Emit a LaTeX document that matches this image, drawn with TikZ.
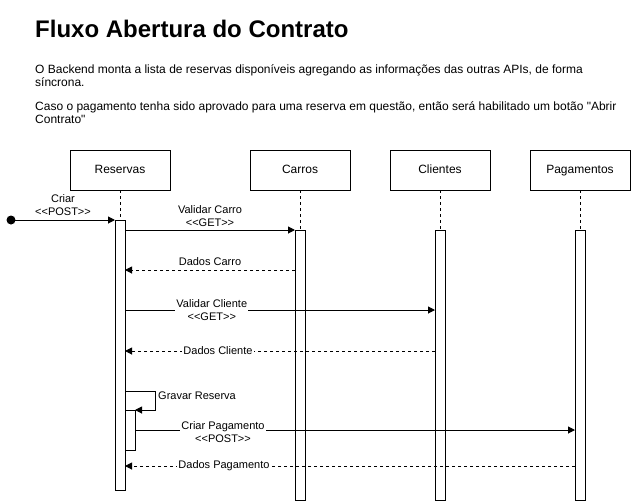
\documentclass[tikz,border=0pt]{standalone}
\usepackage{fontspec}
\setmainfont{Liberation Sans}[Ligatures=TeXOff]
\usetikzlibrary{positioning,arrows.meta}
\tikzset{
    base/.style={font=\fontsize{12}{14}\selectfont, align=center},
    head/.style={base, rectangle, draw, line width=1pt, fill=white,
                 minimum width=100pt, minimum height=40pt, inner sep=0pt, outer sep=0pt,
                 text height=9pt, text depth=2.5pt},
    act/.style={rectangle, draw, line width=1pt, fill=white, minimum width=10pt,
                minimum height=270pt, inner sep=0pt, outer sep=0pt},
    life/.style={line width=1pt, dash pattern=on 3pt off 3pt},
    call/.style={-{Triangle[length=7pt,width=7pt]}, line width=1pt},
    reply/.style={call, dash pattern=on 3pt off 3pt},
    msg/.style={font=\fontsize{11}{13}\selectfont, align=center, inner sep=1pt},
    msgbg/.style={msg, fill=white},
    dot/.style={circle, fill, inner sep=0pt, minimum size=9pt}
}

\begin{document}
\begin{tikzpicture}[x=1pt, y=-1pt]
  \useasboundingbox (0,0) rectangle (631,501);

  % Title and description
  \node[anchor=base west, inner sep=0pt, font=\fontsize{24}{28}\selectfont\bfseries] (title) at (35,37) {Fluxo Abertura do Contrato};
  \node[anchor=north west, inner sep=0pt, align=left, font=\fontsize{12}{13.5}\selectfont] (desc) at (35,64)
    {O Backend monta a lista de reservas disponíveis agregando as informações das outras APIs, de forma\\síncrona.};
  \node[anchor=north west, inner sep=0pt, align=left, font=\fontsize{12}{13.5}\selectfont] (note) at (35,101)
    {Caso o pagamento tenha sido aprovado para uma reserva em questão, então será habilitado um botão "Abrir\\Contrato"};

  % Lifelines
  \node[head] (resHead) at (120,170) {Reservas};
  \node[head, right=80pt of resHead] (carHead) {Carros};
  \node[head, right=40pt of carHead] (cliHead) {Clientes};
  \node[head, right=40pt of cliHead] (pagHead) {Pagamentos};

  \node[act, below=30pt of resHead] (resAct) {};
  \node[act, below=40pt of carHead] (carAct) {};
  \node[act, below=40pt of cliHead] (cliAct) {};
  \node[act, below=40pt of pagHead] (pagAct) {};
  \node[act, minimum height=40pt, anchor=north west] (subAct) at (125,410) {};

  \draw[life] (resHead.south) -- (resAct.north);
  \draw[life] (carHead.south) -- (carAct.north);
  \draw[life] (cliHead.south) -- (cliAct.north);
  \draw[life] (pagHead.south) -- (pagAct.north);

  % Messages
  \node[dot] (start) at (11,220) {};
  \draw[call] (start.center) -- (resAct.north west)
    node[msg, midway, above, yshift=3pt] {Criar\\<<POST>>};

  \draw[call] (resAct.east |- carAct.north) -- (carAct.north west)
    node[msg, midway, above, yshift=2pt] {Validar Carro\\<<GET>>};

  \coordinate (dc) at (0,270);
  \draw[reply] (carAct.west |- dc) -- (resAct.east |- dc)
    node[msg, midway, above, yshift=3pt] {Dados Carro};

  \coordinate (vc) at (0,310);
  \draw[call] (resAct.east |- vc) -- (cliAct.west |- vc)
    node[msgbg, pos=0.28] {Validar Cliente\\<<GET>>};

  \coordinate (dcl) at (0,351);
  \draw[reply] (cliAct.west |- dcl) -- (resAct.east |- dcl)
    node[msgbg, pos=0.70] {Dados Cliente};

  % Self call
  \coordinate (loop) at (155,391);
  \draw[call] (resAct.east |- loop) -- (loop) |- (subAct.north east);
  \node[msg, anchor=north west, xshift=2pt] (gravar) at (loop) {Gravar Reserva};

  \draw[call] (subAct.east) -- (pagAct.west |- subAct.east)
    node[msgbg, pos=0.20, yshift=-2pt] {Criar Pagamento\\<<POST>>};

  \coordinate (dp) at (0,466);
  \draw[reply] (pagAct.west |- dp) -- (resAct.east |- dp)
    node[msgbg, pos=0.78] {Dados Pagamento};
\end{tikzpicture}
\end{document}
